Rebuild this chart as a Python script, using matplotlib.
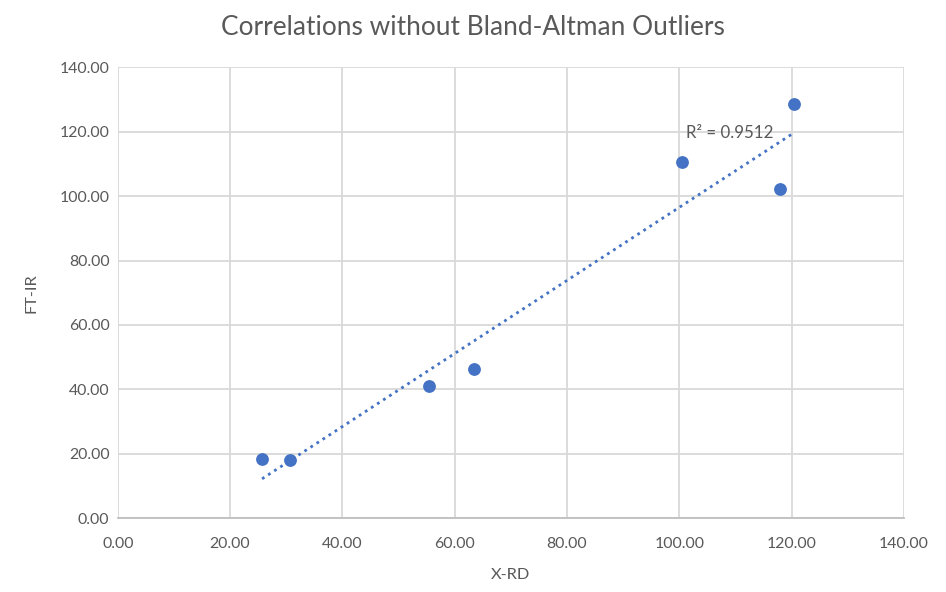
import numpy as np
import matplotlib
matplotlib.use('Agg')
import matplotlib.pyplot as plt
from matplotlib.ticker import FormatStrFormatter, MultipleLocator

# values
x_rd = [25.7, 30.7, 55.5, 63.4, 100.5, 118.0, 120.5]
ft_ir = [18.4, 18.0, 40.9, 46.2, 110.5, 102.2, 128.7]
r2_label = 'R² = 0.9512'

blue = '#4472C4'
grey_txt = '#595959'

plt.rcParams['font.family'] = ['Lato', 'DejaVu Sans']

fig = plt.figure(figsize=(9.46, 5.92), dpi=100)
ax = fig.add_axes([0.1245, 0.125, 0.831, 0.761])

ax.scatter(x_rd, ft_ir, s=85, color=blue, zorder=3, linewidths=0)

# linear trendline
x = np.array(x_rd)
y = np.array(ft_ir)
slope, icpt = np.polyfit(x, y, 1)
xs = np.array([x.min(), x.max()])
ax.plot(xs, slope * xs + icpt, linestyle=(0, (1, 1.6)), color=blue, lw=2, zorder=2)
ax.text(101.2, 119.6, r2_label, fontsize=12.2, color=grey_txt, va='center')

ax.set_xlim(0, 140)
ax.set_ylim(0, 140)
ax.xaxis.set_major_locator(MultipleLocator(20))
ax.yaxis.set_major_locator(MultipleLocator(20))
ax.xaxis.set_major_formatter(FormatStrFormatter('%.2f'))
ax.yaxis.set_major_formatter(FormatStrFormatter('%.2f'))
ax.grid(True, color='#D9D9D9', lw=1.3)
ax.set_axisbelow(True)
for s in ['top', 'right', 'left']:
    ax.spines[s].set_visible(False)
ax.spines['bottom'].set_color('#BFBFBF')
ax.spines['bottom'].set_linewidth(1.3)
ax.tick_params(length=0, labelsize=11.4, colors=grey_txt)
ax.tick_params(axis='x', pad=14)
ax.tick_params(axis='y', pad=6)

ax.set_xlabel('X-RD', fontsize=11.8, color=grey_txt, labelpad=12)
ax.set_ylabel('FT-IR', fontsize=11.8, color=grey_txt, labelpad=15)
fig.text(0.5, 0.954, 'Correlations without Bland-Altman Outliers', fontsize=18.9,
         color=grey_txt, ha='center', va='center')

fig.savefig('out.png', dpi=100)
